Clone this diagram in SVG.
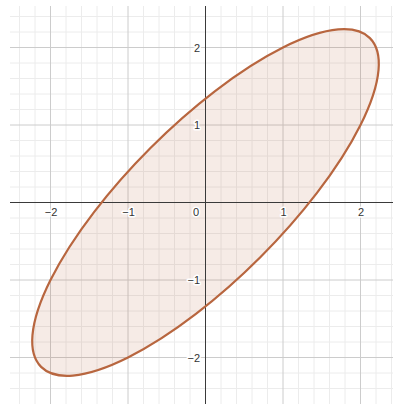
<svg xmlns="http://www.w3.org/2000/svg" width="393" height="404" viewBox="0 0 393 404">
<style>
.minor{stroke:#ececec;stroke-width:1;fill:none}
.major{stroke:#cccccc;stroke-width:1;fill:none}
.axis{stroke:#3a3a3a;stroke-width:1;fill:none}
.lbl{font-family:"Liberation Sans",Arial,sans-serif;font-size:11px;fill:#333;stroke:#fff;stroke-width:3;paint-order:stroke;stroke-linejoin:round}
.xl{text-anchor:middle}
.yl{text-anchor:end}
</style>
<rect width="393" height="404" fill="#fff"/>
<g id="grid">
<path class="minor" d="M19.5 6V404M35 6V404M66 6V404M81.5 6V404M97 6V404M112.5 6V404M143.5 6V404M159 6V404M174.5 6V404M190 6V404M221 6V404M236.5 6V404M252 6V404M267.5 6V404M298.5 6V404M314 6V404M329.5 6V404M345 6V404M376 6V404M391.5 6V404
M10 16.5H393M10 32H393M10 63H393M10 78.5H393M10 94H393M10 109.5H393M10 140.5H393M10 156H393M10 171.5H393M10 187H393M10 218H393M10 233.5H393M10 249H393M10 264.5H393M10 295.5H393M10 311H393M10 326.5H393M10 342H393M10 373H393M10 388.5H393"/>
<path class="major" d="M50.5 6V404M128 6V404M283 6V404M360.5 6V404M10 47.5H393M10 125H393M10 280H393M10 357.5H393"/>
</g>
<g id="ellipse">
<ellipse cx="205.5" cy="202.5" rx="232.5" ry="77.5" transform="rotate(-45 205.5 202.5)" fill="#b8663f" fill-opacity="0.13" stroke="none"/>
</g>
<g id="axes">
<path class="axis" d="M205.5 6V404M10 202.5H393"/>
</g>
<g id="curve">
<ellipse cx="205.5" cy="202.5" rx="232.5" ry="77.5" transform="rotate(-45 205.5 202.5)" fill="none" stroke="#b8663f" stroke-width="2.2"/>
</g>
<g id="labels">
<text class="lbl xl" x="51" y="216">−2</text>
<text class="lbl xl" x="128.5" y="216">−1</text>
<text class="lbl" x="193" y="216">0</text>
<text class="lbl xl" x="283.5" y="216">1</text>
<text class="lbl xl" x="361" y="216">2</text>
<text class="lbl yl" x="200" y="51.5">2</text>
<text class="lbl yl" x="200" y="129">1</text>
<text class="lbl yl" x="200" y="284">−1</text>
<text class="lbl yl" x="200" y="361.5">−2</text>
</g>
</svg>
